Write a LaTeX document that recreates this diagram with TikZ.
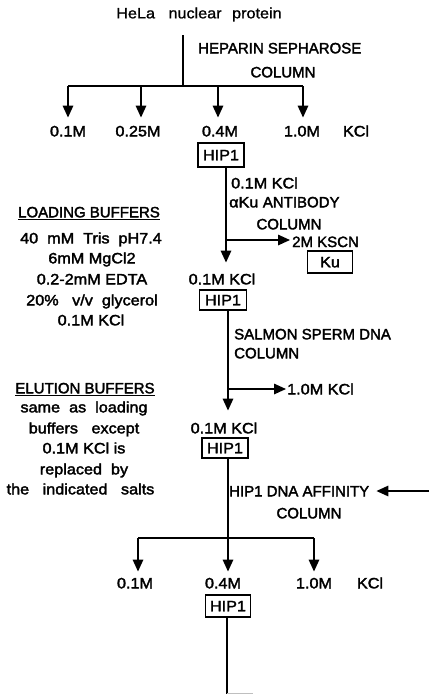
\documentclass[tikz,border=0pt]{standalone}
\usepackage{fontspec}
\setmainfont{Liberation Sans}[FakeStretch=1.08, FakeBold=2.2]
\newfontfamily\capsf{Liberation Sans}[FakeStretch=1.0, FakeBold=2.2]
\usetikzlibrary{arrows.meta}
\begin{document}
\begin{tikzpicture}[x=1pt,y=1pt,
  every node/.style={font=\fontsize{15}{18}\selectfont, inner sep=0pt, text height=11pt, text depth=3.5pt},
  captxt/.style={font=\fontsize{15}{18}\selectfont\capsf},
  ln/.style={line width=1.6pt},
  arr/.style={ln, -{Triangle[length=12pt,width=10.5pt]}},
  hbox/.style={draw, line width=1.4pt, minimum width=46pt, minimum height=21pt, text height=10.5pt, text depth=0pt},
]
\useasboundingbox (0,0) rectangle (429,-694);

% ---------- top: heparin column ----------
\node (title) at (199,-14.6) {\addfontfeature{FakeBold=1}HeLa\hspace{9pt} nuclear\hspace{6pt} protein};
\node[captxt, anchor=west] (hep) at (198,-49.6) {HEPARIN SEPHAROSE};
\node[captxt] (hepc) at (283,-73.6) {COLUMN};
\coordinate (top1) at (183,-35);
\coordinate (j1) at (183,-86);
\coordinate (b1) at (68,-86);
\coordinate (b2) at (141,-86);
\coordinate (b3) at (218,-86);
\coordinate (b4) at (303,-86);
\node (h1) at (68,-132.6) {0.1M};
\node (h2) at (138,-132.6) {0.25M};
\node (h3) at (220,-132.6) {0.4M};
\node (h4) at (302,-132.6) {1.0M};
\node (hk) at (356,-132.6) {KCl};
\draw[ln] (top1) -- (j1);
\draw[ln] (b1) -- (b4);
\draw[arr, shorten >=7.6pt] (b1) -- (b1 |- h1.north);
\draw[arr, shorten >=7.6pt] (b2) -- (b2 |- h2.north);
\draw[arr, shorten >=7.6pt] (b3) -- (b3 |- h3.north);
\draw[arr, shorten >=7.6pt] (b4) -- (b4 |- h4.north);

% ---------- antibody column ----------
\node[hbox, minimum height=24pt] (hipa) at (221,-155) {HIP1};
\coordinate (c1) at (226,0);
\node[anchor=west] (k1) at (231,-184.6) {0.1M KCl};
\node[anchor=west] (ab) at (229,-203.6) {αKu {\capsf ANTIBODY}};
\node[captxt] (abc) at (289,-225.6) {COLUMN};
\coordinate (j2) at (226,-240);
\node[captxt, anchor=west] (kscn) at (292,-243.3) {2M KSCN};
\node[hbox, minimum width=45pt, minimum height=22pt] (ku) at (330,-262) {Ku};
\node (k2) at (222,-280.6) {0.1M KCl};
\draw[arr, shorten >=10.6pt] (hipa.south -| c1) -- (c1 |- k2.north);
\draw[arr, shorten >=2pt] (j2) -- (j2 -| kscn.west);

% ---------- salmon sperm column ----------
\node[hbox, minimum width=47pt, minimum height=20pt] (hipb) at (223,-300) {HIP1};
\coordinate (c2) at (228,0);
\node[captxt, anchor=west] (ss) at (234,-335.6) {SALMON SPERM DNA};
\node[captxt, anchor=west] (ssc) at (234,-354.6) {COLUMN};
\coordinate (j3) at (228,-389);
\node[anchor=west] (k10) at (287,-390.6) {1.0M KCl};
\node (k3) at (224,-429.6) {0.1M KCl};
\draw[arr, shorten >=11.6pt] (hipb.south -| c2) -- (c2 |- k3.north);
\draw[arr, shorten >=1pt] (j3) -- (j3 -| k10.west);

% ---------- HIP1 DNA affinity column ----------
\node[hbox, minimum width=46pt, minimum height=20pt] (hipc) at (225,-448) {HIP1};
\node[captxt, anchor=west] (aff) at (229,-492.6) {HIP1 DNA AFFINITY};
\node[captxt] (affc) at (309,-514.6) {COLUMN};
\coordinate (rin) at (429,-491);
\draw[arr, shorten >=7pt] (rin) -- (rin -| aff.east);
\coordinate (j4) at (228,-538);
\coordinate (d1) at (138,-538);
\coordinate (d3) at (314,-538);
\node (e1) at (135,-584.6) {0.1M};
\node (e2) at (223,-584.6) {0.4M};
\node (e3) at (314,-584.6) {1.0M};
\node (ek) at (370,-584.6) {KCl};
\draw[ln] (d1) -- (d3);
\draw[arr, shorten >=5.6pt] (hipc.south -| j4) -- (j4 |- e2.north);
\draw[arr, shorten >=5.6pt] (d1) -- (d1 |- e1.north);
\draw[arr, shorten >=5.6pt] (d3) -- (d3 |- e3.north);

% ---------- final ----------
\node[hbox, minimum width=45pt, minimum height=22pt] (hipd) at (228,-606) {HIP1};
\coordinate (c4) at (227,-694);
\coordinate (st) at (253,-693);
\draw[ln] (hipd.south -| c4) -- (c4);
\draw[gray!50, line width=1pt] (c4 |- st) -- (st);

% ---------- left panel ----------
\node[captxt] (lb) at (89,-213.6) {\underline{LOADING BUFFERS}};
\node (l1) at (91,-239.6) {40\ \ mM\ \ Tris\ \ pH7.4};
\node (l2) at (92,-259.6) {6mM MgCl2};
\node (l3) at (92,-280.6) {0.2-2mM EDTA};
\node (l4) at (92,-301.6) {20\%\ \ \ v/v\ \ glycerol};
\node (l5) at (91,-321.6) {0.1M KCl};
\node[captxt] (eb) at (85,-389.6) {\underline{ELUTION BUFFERS}};
\node (m1) at (84,-408.6) {same\ \ as\ \ loading};
\node (m2) at (84,-429.6) {buffers\ \ \ except};
\node (m3) at (84,-449.6) {0.1M KCl is};
\node (m4) at (84,-470.6) {replaced\ \ by};
\node (m5) at (80.5,-490.6) {the\ \ \ indicated\ \ \ salts};
\end{tikzpicture}
\end{document}
